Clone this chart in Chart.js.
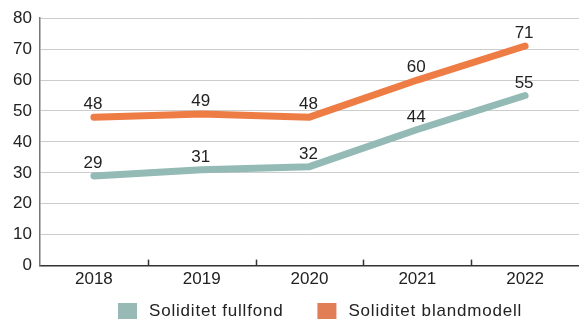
<!DOCTYPE html>
<html>
<head>
<meta charset="utf-8">
<script src="https://cdn.jsdelivr.net/npm/chart.js@4/dist/chart.umd.min.js"></script>
<style>
  html, body { margin: 0; padding: 0; background: #fff; }
  #wrap { width: 579px; height: 319px; }
</style>
</head>
<body>
<div id="wrap"><canvas id="soliditetChart"></canvas></div>
<script>
// chart data
const years = ['2018', '2019', '2020', '2021', '2022'];
const fullfond = [29, 31, 32, 44, 55];
const blandmodell = [48, 49, 48, 60, 71];
const yTicks = [0, 10, 20, 30, 40, 50, 60, 70, 80];

const FONT = "'Liberation Sans', Arial, Helvetica, sans-serif";
const TEXT = '#222';

// values above each point
const valueLabels = {
    id: 'valueLabels',
    afterDatasetsDraw(chart) {
        const ctx = chart.ctx;
        ctx.save();
        ctx.font = '17px ' + FONT;
        ctx.fillStyle = TEXT;
        ctx.textAlign = 'center';
        ctx.textBaseline = 'alphabetic';
        chart.data.datasets.forEach((ds, i) => {
            chart.getDatasetMeta(i).data.forEach((pt, j) => {
                ctx.fillText(ds.data[j], pt.x - 1, pt.y - 8);
            });
        });
        ctx.restore();
    }
};

// short inward ticks between categories on the x axis
const innerTicks = {
    id: 'innerTicks',
    afterDraw(chart) {
        const x = chart.scales.x;
        const ctx = chart.ctx;
        const step = (x.right - x.left) / years.length;
        ctx.save();
        ctx.strokeStyle = '#333';
        ctx.lineWidth = 1.5;
        for (let i = 1; i < years.length; i++) {
            const px = Math.round(x.left + step * i) + 0.5;
            ctx.beginPath();
            ctx.moveTo(px, x.top);
            ctx.lineTo(px, x.top - 6);
            ctx.stroke();
        }
        ctx.restore();
    }
};

// legend at the bottom, drawn by hand so the spacing matches
const bottomLegend = {
    id: 'bottomLegend',
    afterDraw(chart) {
        const ctx = chart.ctx;
        ctx.save();
        ctx.font = '17px ' + FONT;
        ctx.letterSpacing = '0.8px';
        ctx.textBaseline = 'alphabetic';
        ctx.textAlign = 'left';
        let x = 118;
        const y = 303;
        chart.data.datasets.forEach(ds => {
            ctx.fillStyle = ds.backgroundColor;
            ctx.fillRect(x, y, 19, 19);
            ctx.fillStyle = TEXT;
            ctx.fillText(ds.label, x + 31, y + 13);
            x += 31 + ctx.measureText(ds.label).width + 34;
        });
        ctx.restore();
    }
};

const ctx = document.getElementById('soliditetChart').getContext('2d');
const soliditetChart = new Chart(ctx, {
    type: 'line',
    data: {
        labels: years,
        datasets: [{
            label: 'Soliditet fullfond',
            data: fullfond,
            borderColor: '#93bab5',
            backgroundColor: '#97bab7',
            borderWidth: 7,
            borderCapStyle: 'round',
            borderJoinStyle: 'round',
            pointRadius: 0,
            tension: 0
        }, {
            label: 'Soliditet blandmodell',
            data: blandmodell,
            borderColor: '#ee7c45',
            backgroundColor: '#e17e56',
            borderWidth: 7,
            borderCapStyle: 'round',
            borderJoinStyle: 'round',
            pointRadius: 0,
            tension: 0
        }]
    },
    options: {
        responsive: true,
        maintainAspectRatio: false,
        animation: false,
        layout: { padding: { top: 11, right: 0, left: 0, bottom: 25 } },
        plugins: {
            tooltip: { enabled: false },
            legend: { display: false }
        },
        scales: {
            x: {
                offset: true,
                grid: { display: false, drawTicks: false },
                border: { display: true, color: '#333', width: 1.5 },
                ticks: { font: { family: FONT, size: 17 }, color: TEXT, padding: 4 }
            },
            y: {
                min: 0,
                max: 80,
                afterBuildTicks(scale) {
                    scale.ticks = yTicks.map(v => ({ value: v }));
                },
                afterFit(scale) { scale.width = 40; },
                grid: { color: '#cccccc', lineWidth: 1, drawTicks: false },
                border: { display: true, color: '#777', width: 1.5 },
                ticks: { font: { family: FONT, size: 17 }, color: TEXT, padding: 8 }
            }
        }
    },
    plugins: [valueLabels, innerTicks, bottomLegend]
});
</script>
</body>
</html>
